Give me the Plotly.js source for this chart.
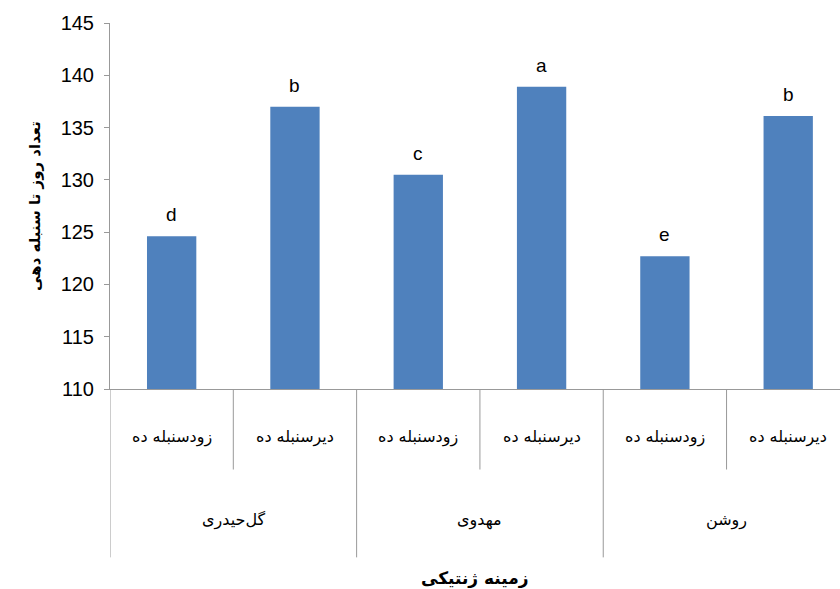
<!DOCTYPE html><html><head><meta charset="utf-8"><script src="https://cdn.plot.ly/plotly-3.0.1.min.js"></script></head><body style="margin:0"><div id="c" style="width:840px;height:589px"></div><script>
const groups=["گل‌حیدری","مهدوی","روشن"];
const subs=["زودسنبله ده","دیرسنبله ده","زودسنبله ده","دیرسنبله ده","زودسنبله ده","دیرسنبله ده"];
const values=[124.6,137.0,130.5,138.9,122.7,136.1];
const letters=["d","b","c","a","e","b"];
const xs=values.map((v,i)=>i);
const ann=[],shapes=[];
const f={family:"DejaVu Sans, Arial",size:16,color:"#000"};
xs.forEach(i=>{
 ann.push({x:i,y:values[i],yref:"y",text:letters[i],showarrow:false,yanchor:"bottom",yshift:9,font:{family:"Arial",size:19,color:"#000"}});
 ann.push({x:i,y:-0.165,yref:"paper",text:subs[i],showarrow:false,font:f});
});
groups.forEach((g,k)=>ann.push({x:2*k+0.5,y:-0.39,yref:"paper",text:g,showarrow:false,font:f}));
for(let k=0;k<=6;k++){const g=k%2===0;shapes.push({type:"line",xref:"x",yref:"paper",x0:k-0.5,x1:k-0.5,y0:0,y1:g?-0.46:-0.22,line:{color:"#999",width:1}});}
Plotly.newPlot("c",[{type:"bar",x:xs,y:values,marker:{color:"#4f81bd"},width:0.4,hoverinfo:"none"}],{
 width:840,height:589,margin:{l:110,r:0,t:23,b:200},paper_bgcolor:"#fff",plot_bgcolor:"#fff",showlegend:false,
 xaxis:{range:[-0.5,5.42],showticklabels:false,ticks:"",showgrid:false,zeroline:false,showline:true,linecolor:"#999"},
 yaxis:{range:[110,145],dtick:5,showgrid:false,zeroline:false,showline:true,linecolor:"#999",ticks:"outside",ticklen:5,tickcolor:"#999",tickfont:{family:"Arial",size:20,color:"#000"},ticklabelstandoff:6,
  title:{text:"<b>تعداد روز تا سنبله دهی</b>",font:{family:"DejaVu Sans",size:15,color:"#000"},standoff:16}},
 annotations:ann.concat([{x:0.5,xref:"paper",y:-0.55,yref:"paper",text:"<b>زمینه ژنتیکی</b>",showarrow:false,font:{family:"DejaVu Sans",size:17,color:"#000"}}]),
 shapes:shapes
},{staticPlot:true});
</script></body></html>
